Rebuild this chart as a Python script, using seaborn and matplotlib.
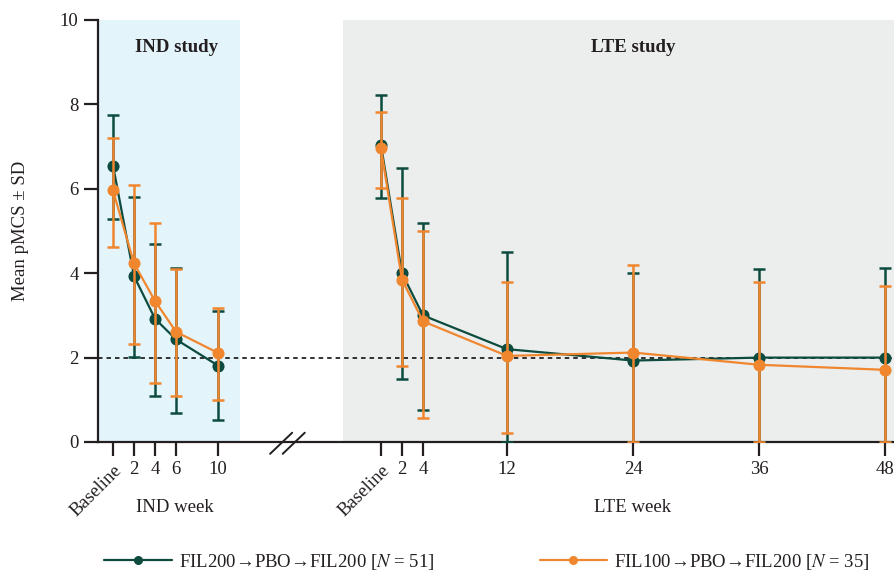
import numpy as np
import pandas as pd
import matplotlib
matplotlib.use("Agg")
import matplotlib.pyplot as plt
from matplotlib.lines import Line2D
import seaborn as sns

# ---------------- data ----------------
ind_weeks = [0, 2, 4, 6, 10]
ind_labels = ["Baseline", "2", "4", "6", "10"]
lte_weeks = [0, 2, 4, 12, 24, 36, 48]
lte_labels = ["Baseline", "2", "4", "12", "24", "36", "48"]

# FIL200->PBO->FIL200 (N=51)
g_ind_mean = [6.55, 3.93, 2.92, 2.43, 1.81]
g_ind_hi = [7.74, 5.81, 4.70, 4.12, 3.10]
g_ind_lo = [5.28, 2.02, 1.09, 0.69, 0.51]
g_lte_mean = [7.04, 4.00, 3.00, 2.20, 1.93, 2.00, 2.00]
g_lte_hi = [8.23, 6.50, 5.19, 4.50, 4.00, 4.10, 4.12]
g_lte_lo = [5.78, 1.50, 0.75, 0.00, 0.00, 0.00, 0.00]

# FIL100->PBO->FIL200 (N=35)
o_ind_mean = [5.96, 4.23, 3.34, 2.61, 2.11]
o_ind_hi = [7.20, 6.08, 5.20, 4.10, 3.18]
o_ind_lo = [4.61, 2.32, 1.39, 1.08, 1.00]
o_lte_mean = [6.96, 3.85, 2.86, 2.04, 2.12, 1.83, 1.71]
o_lte_hi = [7.81, 5.79, 4.99, 3.80, 4.20, 3.80, 3.69]
o_lte_lo = [6.02, 1.80, 0.56, 0.21, 0.00, 0.00, 0.00]

series_names = ["FIL200\u2192PBO\u2192FIL200 [$N$ = 51]",
                "FIL100\u2192PBO\u2192FIL200 [$N$ = 35]"]

# ---------------- style ----------------
sns.set_theme(style="white")
plt.rcParams["font.family"] = ["Liberation Serif", "DejaVu Serif"]
plt.rcParams["mathtext.fontset"] = "stix"
FS = 13.5
GREEN = "#0c4b3e"
ORANGE = "#f0862e"
TXT = "#231f20"

LTE_OFFSET = 25.5  # position of LTE baseline on the shared axis

fig = plt.figure(figsize=(8.94, 5.71), dpi=100)
ax = fig.add_axes([98 / 894, 1 - 442 / 571, 1 - 98 / 894 + 0.002, (442 - 20) / 571])

xmin, xmax = -1.43, 74.5
ax.set_xlim(xmin, xmax)
ax.set_ylim(0, 10)

# shaded study regions
ax.axvspan(xmin, 12.1, color="#e4f4fb", zorder=0, lw=0)
ax.axvspan(21.9, xmax + 1, color="#eceeed", zorder=0, lw=0)

# reference line
ax.axhline(2, color="#222222", ls=(0, (2.5, 2.2)), lw=1.3, zorder=1)

def draw(weeks, offset, mean, hi, lo, color, z):
    x = np.array(weeks, dtype=float) + offset
    m = np.array(mean)
    yerr = np.vstack([m - np.array(lo), np.array(hi) - m])
    ax.errorbar(x, m, yerr=yerr, fmt="none", ecolor=color, elinewidth=1.8,
                capsize=4.4, capthick=1.8, zorder=z)
    df = pd.DataFrame({"x": x, "y": m})
    sns.lineplot(data=df, x="x", y="y", ax=ax, color=color, lw=1.6,
                 marker="o", markersize=8.7, markeredgewidth=0,
                 zorder=z + 0.5, legend=False)

draw(ind_weeks, 0, g_ind_mean, g_ind_hi, g_ind_lo, GREEN, 3)
draw(lte_weeks, LTE_OFFSET, g_lte_mean, g_lte_hi, g_lte_lo, GREEN, 3)
draw(ind_weeks, 0, o_ind_mean, o_ind_hi, o_ind_lo, ORANGE, 4)
draw(lte_weeks, LTE_OFFSET, o_lte_mean, o_lte_hi, o_lte_lo, ORANGE, 4)

# axes styling
for s in ["top", "right"]:
    ax.spines[s].set_visible(False)
for s in ["left", "bottom"]:
    ax.spines[s].set_color(TXT)
    ax.spines[s].set_linewidth(1.6)

ticks = list(ind_weeks) + [w + LTE_OFFSET for w in lte_weeks]
labels = ind_labels + lte_labels
ax.set_xticks(ticks)
ax.set_xticklabels(labels)
for lab in ax.get_xticklabels():
    if lab.get_text() == "Baseline":
        lab.set_rotation(45)
        lab.set_ha("right")
        lab.set_va("top")
        lab.set_rotation_mode("anchor")
ax.set_yticks([0, 2, 4, 6, 8, 10])
ax.tick_params(axis="both", direction="out", length=10, width=1.6,
               color=TXT, labelsize=FS, labelcolor=TXT, pad=4,
               bottom=True, left=True)
ax.set_xlabel("")
ax.set_ylabel("Mean pMCS \u00b1 SD", fontsize=FS, color=TXT, labelpad=22)

# axis break marks
for dx in (0, 1.2):
    ax.plot([14.95 + dx, 17.05 + dx], [-0.28, 0.22], color=TXT, lw=1.4,
            clip_on=False, zorder=6)

# study titles
ax.text(6.0, 9.35, "IND study", ha="center", va="center", fontsize=FS,
        fontweight="bold", color=TXT)
ax.text(49.5, 9.35, "LTE study", ha="center", va="center", fontsize=FS,
        fontweight="bold", color=TXT)

# x axis titles
fig.text(175 / 894, 1 - 507 / 571, "IND week", ha="center", va="center",
         fontsize=FS, color=TXT)
fig.text(633 / 894, 1 - 507 / 571, "LTE week", ha="center", va="center",
         fontsize=FS, color=TXT)

# legend
handles = [Line2D([], [], color=GREEN, lw=1.6, marker="o", markersize=6.5,
                  markeredgewidth=0),
           Line2D([], [], color=ORANGE, lw=1.6, marker="o", markersize=6.5,
                  markeredgewidth=0)]
fig.legend(handles, series_names, loc="center", ncol=2,
           bbox_to_anchor=(487 / 894, 1 - 562 / 571), frameon=False,
           fontsize=FS, handlelength=3.6, handletextpad=0.4,
           columnspacing=5.6, labelcolor=TXT)

fig.savefig("out.png", dpi=100)
